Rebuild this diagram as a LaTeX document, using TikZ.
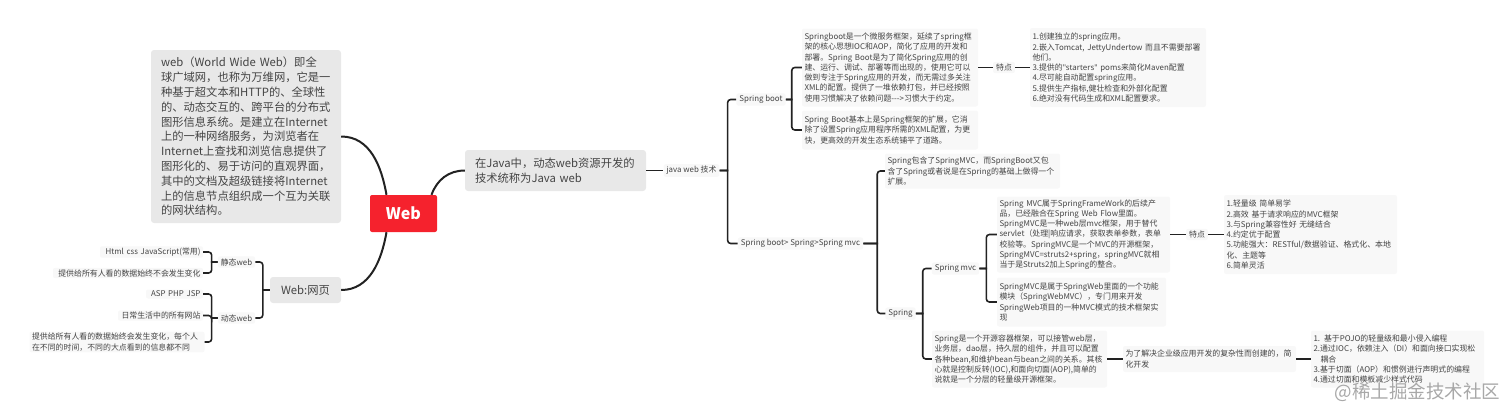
\documentclass[tikz,border=0pt]{standalone}
\usepackage{fontspec}
\setmainfont{Noto Sans CJK SC}
\newfontfamily\quotefont{Noto Sans}
\usetikzlibrary{positioning}
\definecolor{inkgray}{HTML}{444444}
\definecolor{linegray}{HTML}{222222}
\definecolor{boxgray}{HTML}{E8E8E8}
\definecolor{leafgray}{HTML}{F8F8F8}
\definecolor{webred}{HTML}{F5222D}
\definecolor{markgray}{HTML}{A8A8A8}
\tikzset{
rootbox/.style={fill=webred, text=white, rounded corners=2pt, minimum width=67pt, minimum height=37pt, inner sep=0pt, font=\fontsize{16}{20}\selectfont\bfseries},
bigbox/.style={fill=boxgray, text=inkgray, rounded corners=3pt, inner xsep=10pt, inner ysep=0pt, align=left, font=\fontsize{11.3}{14.8}\selectfont},
leaf/.style={fill=leafgray, text=inkgray, rounded corners=2pt, inner xsep=2.5pt, inner ysep=1.5pt, align=left, font=\fontsize{7.9}{10.25}\selectfont},
tag/.style={fill=leafgray, text=inkgray, rounded corners=2pt, inner xsep=3pt, inner ysep=2pt, font=\fontsize{7.9}{10.25}\selectfont},
mainlink/.style={draw=linegray, line width=2pt},
branch/.style={draw=linegray, line width=1.6pt},
stampmark/.style={text=markgray, font=\fontsize{18.5}{22}\selectfont}
}
\begin{document}
\begin{tikzpicture}[on grid]
\useasboundingbox (0,0) rectangle (1512pt,-416pt);
\node[rootbox](web) at (403.5pt,-213.5pt) {Web};
\node[bigbox, text width=170pt, minimum height=173pt, above left=77pt and 157.5pt of web](webinfo) {web（World Wide Web）即全\\球广域网，也称为万维网，它是一\\种基于超文本和HTTP的、全球性\\的、动态交互的、跨平台的分布式\\图形信息系统。是建立在Internet\\上的一种网络服务，为浏览者在\\Internet上查找和浏览信息提供了\\图形化的、易于访问的直观界面，\\其中的文档及超级链接将Internet\\上的信息节点组织成一个互为关联\\的网状结构。};
\node[bigbox, inner xsep=5pt, minimum width=71pt, minimum height=26pt, below left=76.5pt and 98pt of web](webpage) {Web:网页};
\node[bigbox, text width=161pt, minimum height=41pt, above right=43pt and 152pt of web](javaweb) {在Java中，动态web资源开发的\\技术统称为Java web};
\node[tag, left=69pt of webpage, yshift=28pt](staticweb) {静态web};
\node[tag, left=69pt of webpage, yshift=-28pt](dynweb) {动态web};
\node[leaf, text width=98pt, align=right, above left=10pt and 85pt of staticweb](htmlcss) {Html css JavaScript(常用)};
\node[leaf, text width=145pt, align=right, below left=11pt and 108.5pt of staticweb](staticnote) {提供给所有人看的数据始终不会发生变化};
\node[leaf, text width=52pt, align=right, above left=24pt and 62pt of dynweb](aspphp) {ASP PHP JSP};
\node[leaf, text width=80pt, align=right, below left=-2.5pt and 76pt of dynweb](sitenote) {日常生活中的所有网站};
\node[leaf, text width=170pt, below left=24pt and 119.5pt of dynweb](dynnote) {提供给所有人看的数据始终会发生变化，每个人\\在不同的时间，不同的大点看到的信息都不同};
\node[tag, right=136pt of javaweb](javatech) {java web 技术};
\node[tag, above right=71pt and 69.5pt of javatech](springboot) {Spring boot};
\node[tag, below right=73pt and 109pt of javatech](bootorder) {Spring boot> Spring>Spring mvc};
\node[leaf, text width=171pt, minimum height=78pt, above right=32pt and 129pt of springboot](bootdesc) {Springboot是一个微服务框架，延续了spring框\\架的核心思想IOC和AOP，简化了应用的开发和\\部署。Spring Boot是为了简化Spring应用的创\\建、运行、调试、部署等而出现的，使用它可以\\做到专注于Spring应用的开发，而无需过多关注\\XML的配置。提供了一堆依赖打包，并已经按照\\使用习惯解决了依赖问题-{}-{}->习惯大于约定。};
\node[leaf, text width=171pt, minimum height=39pt, below right=30.5pt and 129pt of springboot](bootext) {Spring Boot基本上是Spring框架的扩展，它消\\除了设置Spring应用程序所需的XML配置，为更\\快，更高效的开发生态系统铺平了道路。};
\node[tag, right=114pt of bootdesc](bootpoint) {特点};
\node[leaf, text width=171pt, minimum height=79pt, right=114pt of bootpoint](bootfeat) {1.创建独立的spring应用。\\2.嵌入Tomcat, JettyUndertow 而且不需要部署\\他们。\\3.提供的{\quotefont"starters"} poms来简化Maven配置\\4.尽可能自动配置spring应用。\\5.提供生产指标,健壮检查和外部化配置\\6.绝对没有代码生成和XML配置要求。};
\node[leaf, text width=170pt, minimum height=35pt, above right=72.5pt and 172pt of bootorder](springcover) {Spring包含了SpringMVC，而SpringBoot又包\\含了Spring或者说是在Spring的基础上做得一个\\扩展。};
\node[tag, below right=70pt and 100pt of bootorder](spring) {Spring};
\node[tag, above right=45pt and 55pt of spring](springmvc) {Spring mvc};
\node[leaf, text width=168pt, minimum height=76pt, above right=34pt and 128pt of springmvc](mvcdesc) {Spring MVC属于SpringFrameWork的后续产\\品，已经融合在Spring Web Flow里面。\\SpringMVC是一种web层mvc框架，用于替代\\servlet（处理|响应请求，获取表单参数，表单\\校验等。SpringMVC是一个MVC的开源框架，\\SpringMVC=struts2+spring，springMVC就相\\当于是Struts2加上Spring的整合。};
\node[leaf, text width=164pt, minimum height=49pt, below right=33.5pt and 126pt of springmvc](mvcweb) {SpringMVC是属于SpringWeb里面的一个功能\\模块（SpringWebMVC），专门用来开发\\SpringWeb项目的一种MVC模式的技术框架实\\现};
\node[tag, right=113.5pt of mvcdesc](mvcpoint) {特点};
\node[leaf, text width=168pt, minimum height=79pt, right=113.5pt of mvcpoint](mvcfeat) {1.轻量级 简单易学\\2.高效 基于请求响应的MVC框架\\3.与Spring兼容性好 无缝结合\\4.约定优于配置\\5.功能强大：RESTful/数据验证、格式化、本地\\化、主题等\\6.简单灵活};
\node[leaf, text width=170pt, minimum height=57pt, below right=45.5pt and 119pt of spring](springdesc) {Spring是一个开源容器框架，可以接管web层，\\业务层，dao层，持久层的组件，并且可以配置\\各种bean,和维护bean与bean之间的关系。其核\\心就是控制反转(IOC),和面向切面(AOP),简单的\\说就是一个分层的轻量级开源框架。};
\node[leaf, text width=168pt, minimum height=26pt, right=190pt of springdesc](purpose) {为了解决企业级应用开发的复杂性而创建的，简\\化开发};
\node[leaf, text width=168pt, minimum height=57pt, right=188pt of purpose](purposefeat) {1. 基于POJO的轻量级和最小侵入编程\\2.通过IOC，依赖注入（DI）和面向接口实现松\\\hspace*{7pt}耦合\\3.基于切面（AOP）和惯例进行声明式的编程\\4.通过切面和模板减少样式代码};
\node[stampmark, below right=33.5pt and 20pt of purposefeat](stamp) {@稀土掘金技术社区};
\draw[mainlink] (webinfo.east) to[out=0, in=100] ([xshift=-17pt]web.north);
\draw[mainlink] (webpage.east) to[out=0, in=-100] ([xshift=-17pt]web.south);
\draw[mainlink] ([xshift=28pt]web.north) to[out=70, in=180] (javaweb.west);
\draw[branch] (webpage.west) -- ++(-7pt,0) [rounded corners=3pt] |- (staticweb.east);
\draw[branch] (webpage.west) -- ++(-7pt,0) [rounded corners=3pt] |- (dynweb.east);
\draw[branch] (staticweb.west) -- ++(-6pt,0) [rounded corners=3pt] |- (htmlcss.east);
\draw[branch] (staticweb.west) -- ++(-6pt,0) [rounded corners=3pt] |- (staticnote.east);
\draw[branch] (dynweb.west) -- ++(-6pt,0) [rounded corners=3pt] |- (aspphp.east);
\draw[branch] (dynweb.west) -- ++(-6pt,0) [rounded corners=3pt] |- (sitenote.east);
\draw[branch] (dynweb.west) -- ++(-6pt,0) [rounded corners=3pt] |- (dynnote.east);
\draw[branch] (javaweb.east) -- (javatech.west);
\draw[branch] (javatech.east) -- ++(8pt,0) [rounded corners=3pt] |- (springboot.west);
\draw[branch] (javatech.east) -- ++(8pt,0) [rounded corners=3pt] |- (bootorder.west);
\draw[branch] (springboot.east) -- ++(6pt,0) [rounded corners=3pt] |- (bootdesc.west);
\draw[branch] (springboot.east) -- ++(6pt,0) [rounded corners=3pt] |- (bootext.west);
\draw[branch] (bootdesc.east) -- (bootpoint.west);
\draw[branch] (bootpoint.east) -- (bootfeat.west);
\draw[branch] (bootorder.east) -- ++(14pt,0) [rounded corners=3pt] |- (springcover.west);
\draw[branch] (bootorder.east) -- ++(14pt,0) [rounded corners=3pt] |- (spring.west);
\draw[branch] (spring.east) -- ++(7pt,0) [rounded corners=3pt] |- (springmvc.west);
\draw[branch] (spring.east) -- ++(7pt,0) [rounded corners=3pt] |- (springdesc.west);
\draw[branch] (springmvc.east) -- ++(7pt,0) [rounded corners=3pt] |- (mvcdesc.west);
\draw[branch] (springmvc.east) -- ++(7pt,0) [rounded corners=3pt] |- (mvcweb.west);
\draw[branch] (mvcdesc.east) -- (mvcpoint.west);
\draw[branch] (mvcpoint.east) -- (mvcfeat.west);
\draw[branch] (springdesc.east) -- (purpose.west);
\draw[branch] (purpose.east) -- (purposefeat.west);
\end{tikzpicture}
\end{document}
